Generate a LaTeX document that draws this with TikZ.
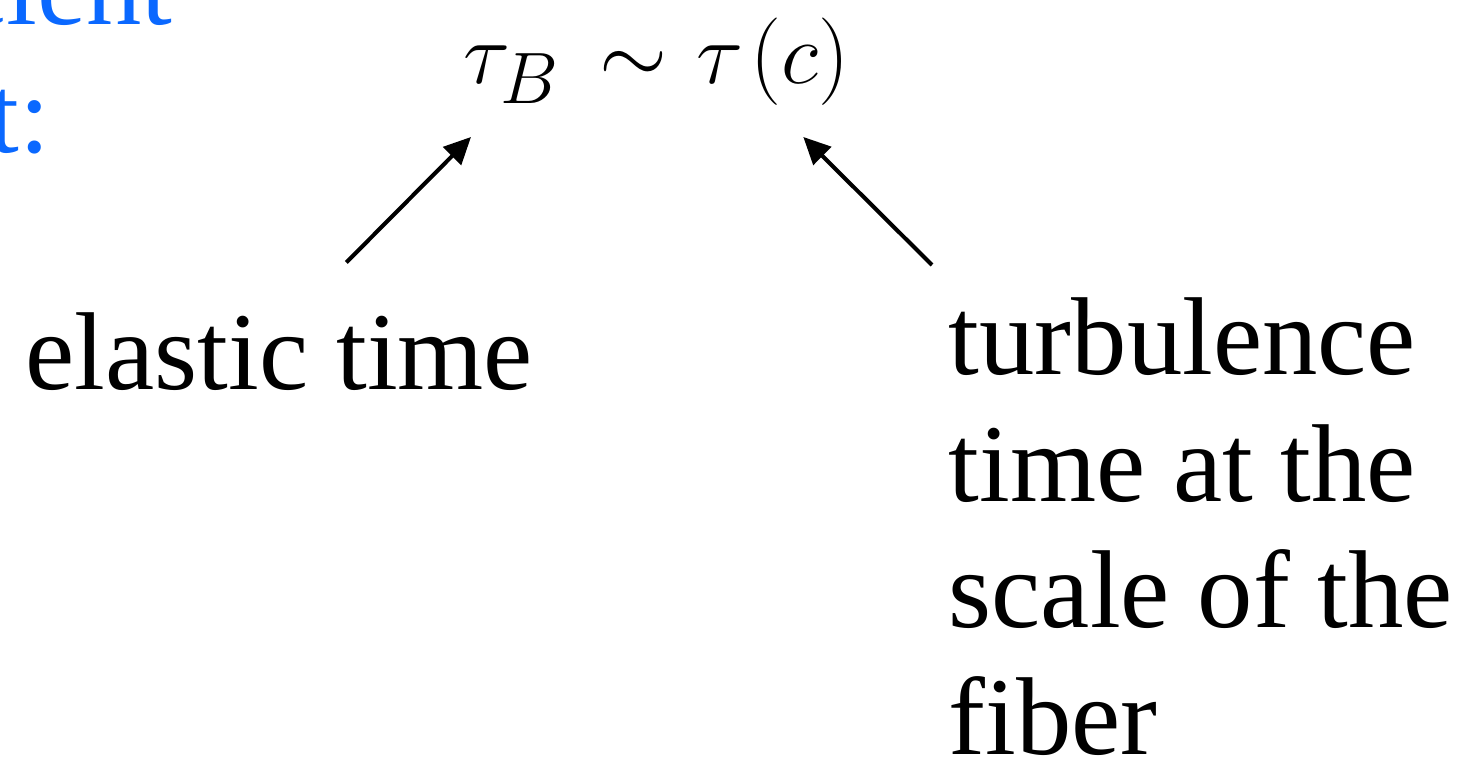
\documentclass[tikz,border=0pt]{standalone}
\usepackage{fontspec}
\setmainfont{Liberation Serif}
\usetikzlibrary{arrows.meta}
\definecolor{slideblue}{RGB}{10,104,255}

\begin{document}
\begin{tikzpicture}[>={Triangle[length=0.27cm,width=0.25cm]},
    lbl/.style={inner sep=0pt, font=\fontsize{31.5}{36}\selectfont},
    ptr/.style={->, line width=1.15pt}]

  \useasboundingbox (0,0) rectangle (14.73,7.63);

  % bout de texte coupé en haut à gauche
  \node[lbl, slideblue, anchor=base east] (cut1) at (1.73,7.38) {icient};
  \node[lbl, slideblue, anchor=base east] (cut2) at (0.51,6.10) {t:};

  % relation
  \node[inner sep=0pt, anchor=base west, font=\fontsize{29}{34}\selectfont]
    (rel) at (4.63,6.79) {$\tau_B\mkern3mu \sim\mkern1mu \tau\mkern1.5mu(c)$};

  \node[lbl, anchor=base west] (elastic) at (0.25,3.73) {elastic time};
  \node[lbl, anchor=north west, align=left] (turb) at (9.48,4.66)
    {turbulence\\time at the\\scale of the\\fiber};

  \draw[ptr] ([shift={(0.67,0.5)}]elastic.north) -- ([shift={(0.08,-0.305)}]rel.south west);
  \draw[ptr] ([shift={(-0.16,0.32)}]turb.north west) -- ([shift={(-0.47,-0.305)}]rel.south east);

\end{tikzpicture}
\end{document}
